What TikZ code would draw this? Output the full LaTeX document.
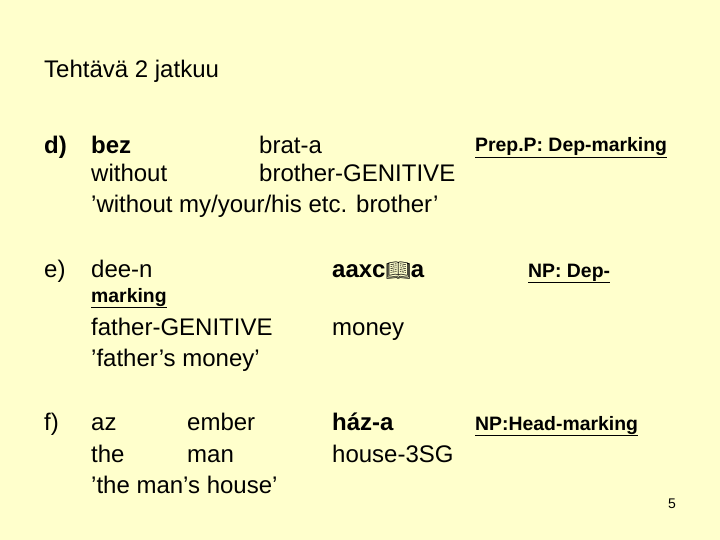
\documentclass[tikz,border=0pt]{standalone}
\usepackage{fontspec}
\setmainfont{Liberation Sans}
\newfontfamily\emo{Noto Emoji}
\definecolor{bg}{HTML}{FFFFCC}
\begin{document}
\begin{tikzpicture}[x=1pt,y=-1pt,
  t/.style={anchor=base west,inner sep=0pt,font=\fontsize{24}{28}\selectfont},
  b/.style={t,font=\fontsize{24}{28}\selectfont\bfseries},
  u/.style={anchor=base west,inner sep=0pt,font=\fontsize{19.4}{22}\selectfont\bfseries}]
\fill[bg] (0,0) rectangle (720,540);
\useasboundingbox (0,0) rectangle (720,540);
\node[t] (title) at (44,78) {Tehtävä 2 jatkuu};
\node[b] (d) at (44,154) {d)};
\node[b] (d1) at (91,154) {bez};
\node[t] (d2) at (259,154) {brat-a};
\node[u] (d3) at (475,152) {\underline{Prep.P: Dep-marking}};
\node[t] (d4) at (91,182) {without};
\node[t] (d5) at (259,182) {brother-GENITIVE};
\node[t] (d6) at (91,213) {’without my/your/his etc. brother’};
\node[t] (e) at (44,277) {e)};
\node[t] (e1) at (91,277) {dee-n};
\node[b] (e2) at (332,277) {aaxc{\emo\fontsize{20}{22}\selectfont 📖}a};
\node[u] (e3) at (528,277) {\underline{NP: Dep-}};
\node[u] (e4) at (91,302) {\underline{marking}};
\node[t] (e5) at (91,335) {father-GENITIVE};
\node[t] (e6) at (332,335) {money};
\node[t] (e7) at (91,366) {’father’s money’};
\node[t] (f) at (44,430) {f)};
\node[t] (f1) at (91,430) {az};
\node[t] (f2) at (187,430) {ember};
\node[b] (f3) at (332,430) {ház-a};
\node[u] (f4) at (475,430) {\underline{NP:Head-marking}};
\node[t] (f5) at (91,462) {the};
\node[t] (f6) at (187,462) {man};
\node[t] (f7) at (332,462) {house-3SG};
\node[t] (f8) at (91,493) {’the man’s house’};
\node[anchor=base west,inner sep=0pt,font=\fontsize{14}{16}\selectfont] (pg) at (668,508) {5};
\end{tikzpicture}
\end{document}
